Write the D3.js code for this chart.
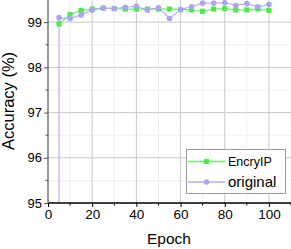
<!DOCTYPE html>
<html><head><meta charset="utf-8">
<script src="https://cdn.jsdelivr.net/npm/d3@7"></script>
<style>body{margin:0;background:#fff}svg{display:block;font-family:"Liberation Sans",Arial,sans-serif}</style>
</head><body><svg id="c" width="291" height="249"></svg>
<script>
const epochs = [5,10,15,20,25,30,35,40,45,50,55,60,65,70,75,80,85,90,95,100];
const encryIP = [98.96,99.17,99.26,99.29,99.31,99.30,99.29,99.29,99.29,99.29,99.29,99.28,99.27,99.24,99.29,99.30,99.27,99.27,99.29,99.26];
const originalEpochs = [5,5,10,15,20,25,30,35,40,45,50,55,60,65,70,75,80,85,90,95,100];
const original = [10,99.10,99.08,99.16,99.27,99.31,99.30,99.33,99.35,99.27,99.32,99.08,99.28,99.34,99.42,99.42,99.43,99.37,99.41,99.34,99.39];
const xTicks = [0,20,40,60,80,100];
const yTicks = [95,96,97,98,99];
const seriesNames = ["EncryIP","original"];

const svg = d3.select("#c");
const L = 48, R = 291, T = 0, B = 203;
const x = d3.scaleLinear().domain([0,110]).range([L,R]);
const y = d3.scaleLinear().domain([95,99.49]).range([B,T]);

svg.append("defs").append("clipPath").attr("id","clip")
  .append("rect").attr("x",L).attr("y",T).attr("width",R-L).attr("height",B-T);

// minor grid
const g = svg.append("g");
g.selectAll(".mx").data(d3.range(10,111,20)).enter().append("line")
  .attr("x1",d=>x(d)).attr("x2",d=>x(d)).attr("y1",T).attr("y2",B).attr("stroke","#eef0f0");
g.selectAll(".my").data([95.5,96.5,97.5,98.5]).enter().append("line")
  .attr("x1",L).attr("x2",R).attr("y1",d=>y(d)).attr("y2",d=>y(d)).attr("stroke","#eef0f0");
// major grid
g.selectAll(".Mx").data(xTicks.slice(1)).enter().append("line")
  .attr("x1",d=>x(d)).attr("x2",d=>x(d)).attr("y1",T).attr("y2",B).attr("stroke","#c3cbcb");
g.selectAll(".My").data(yTicks.slice(1)).enter().append("line")
  .attr("x1",L).attr("x2",R).attr("y1",d=>y(d)).attr("y2",d=>y(d)).attr("stroke","#c3cbcb");

// series
const cG = "#6ef06e", cGm = "#55e64e", cP = "#b5aef2", cPm = "#aea4f0";
const plot = svg.append("g").attr("clip-path","url(#clip)");
const line = d3.line().x(d=>x(d[0])).y(d=>y(d[1]));
const dG = epochs.map((e,i)=>[e,encryIP[i]]);
const dP = originalEpochs.map((e,i)=>[e,original[i]]);
plot.append("path").attr("d",line(dG)).attr("fill","none").attr("stroke",cG).attr("stroke-width",1.3);
plot.append("path").attr("d",line(dP)).attr("fill","none").attr("stroke",cP).attr("stroke-width",1.2);
plot.selectAll(".sg").data(dG).enter().append("rect")
  .attr("x",d=>x(d[0])-2.6).attr("y",d=>y(d[1])-2.6).attr("width",5.2).attr("height",5.2).attr("fill",cGm);
plot.selectAll(".sp").data(dP).enter().append("circle")
  .attr("cx",d=>x(d[0])).attr("cy",d=>y(d[1])).attr("r",2.8).attr("fill",cPm);

// axes
const xa = svg.append("g").attr("transform",`translate(0,${B})`)
  .call(d3.axisBottom(x).tickValues(xTicks).tickSize(4).tickPadding(2).tickFormat(d3.format("d")));
xa.select(".domain").remove();
xa.append("line").attr("x1",L).attr("x2",R).attr("stroke","#000").attr("stroke-width",1.3);
xa.selectAll(".minor").data(d3.range(10,111,20)).enter().append("line")
  .attr("x1",d=>x(d)).attr("x2",d=>x(d)).attr("y1",0).attr("y2",2.5).attr("stroke","#000");
xa.selectAll("text").attr("font-size",13.5).attr("fill","#000").attr("font-family","Liberation Sans, Arial");

const ya = svg.append("g").attr("transform",`translate(${L},0)`)
  .call(d3.axisLeft(y).tickValues(yTicks).tickSize(4).tickPadding(2).tickFormat(d3.format("d")));
ya.select(".domain").remove();
ya.append("line").attr("y1",T).attr("y2",B).attr("stroke","#555").attr("stroke-width",1.2);
ya.selectAll(".minor").data([95.5,96.5,97.5,98.5]).enter().append("line")
  .attr("y1",d=>y(d)).attr("y2",d=>y(d)).attr("x1",0).attr("x2",-2.5).attr("stroke","#555");
ya.selectAll(".tick line").attr("stroke","#555");
ya.selectAll("text").attr("font-size",13).attr("fill","#000").attr("font-family","Liberation Sans, Arial");

// titles
svg.append("text").attr("x",169).attr("y",244).attr("text-anchor","middle")
  .attr("font-size",15.5).text("Epoch");
svg.append("text").attr("transform",`translate(13.5,101) rotate(-90)`).attr("text-anchor","middle")
  .attr("font-size",16.5).text("Accuracy (%)");

// legend
const lg = svg.append("g");
lg.append("rect").attr("x",186.5).attr("y",149.5).attr("width",99).attr("height",44)
  .attr("fill","#fff").attr("stroke","#999");
const rows = [{n:seriesNames[0],y:161.5,c:cG,m:cGm,fs:12.5,sq:true},{n:seriesNames[1],y:182,c:cP,m:cPm,fs:15,sq:false}];
rows.forEach(r=>{
  lg.append("line").attr("x1",188).attr("x2",225).attr("y1",r.y).attr("y2",r.y).attr("stroke",r.c).attr("stroke-width",1.3);
  if(r.sq) lg.append("rect").attr("x",206.5-2.6).attr("y",r.y-2.6).attr("width",5.2).attr("height",5.2).attr("fill",r.m);
  else lg.append("circle").attr("cx",206.5).attr("cy",r.y).attr("r",2.8).attr("fill",r.m);
  lg.append("text").attr("x",228).attr("y",r.y).attr("dy","0.36em").attr("font-size",r.fs).text(r.n);
});
</script></body></html>
